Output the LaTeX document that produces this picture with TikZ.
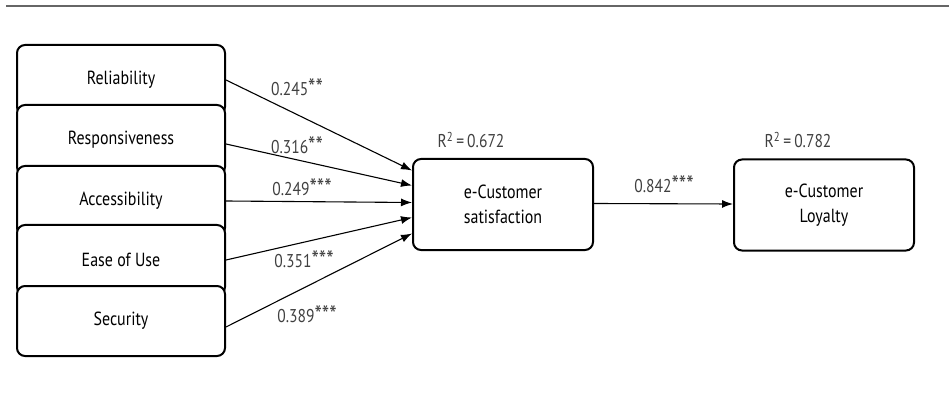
\documentclass[tikz,border=0pt]{standalone}
\usepackage{fontspec}
\setmainfont[FakeStretch=0.84]{PT Sans}
\usetikzlibrary{arrows.meta}
\newcommand{\sigstar}{\raisebox{-1.5pt}{\fontsize{25}{25}\selectfont*}}

\begin{document}
\begin{tikzpicture}[x=1pt,y=-1pt,
  box/.style={draw,rounded corners=8pt,line width=2pt,fill=white,
    minimum width=208pt,minimum height=70pt,inner sep=2pt,
    font=\fontsize{19}{25}\selectfont},
  bigbox/.style={box,minimum width=180pt,minimum height=91pt,align=center},
  coef/.style={text=black!75,inner sep=1pt,font=\fontsize{18.5}{20}\selectfont},
  path/.style={line width=1.1pt,-{Latex[length=11pt,width=8pt]}}]
\useasboundingbox (0,0) rectangle (949,395);
\draw[black!60,line width=2pt] (6,6.5)--(949,6.5);

\node[box] (rel) at (121,80) {Reliability};
\node[box] (res) at (121,140) {Responsiveness};
\node[box] (acc) at (121,201) {Accessibility};
\node[box] (eou) at (121,260) {Ease of Use};
\node[box] (sec) at (121,321) {Security};

\node[bigbox] (sat) at (503,204.5) {e-Customer\\satisfaction};
\node[bigbox] (loy) at (824,205) {e-Customer\\Loyalty};

\node[coef] (r2sat) at (471,140) {R\textsuperscript{2}\,=\,0.672};
\node[coef] (r2loy) at (798,140) {R\textsuperscript{2}\,=\,0.782};

\draw[path] (rel.east) -- ([yshift=34pt]sat.west);
\draw[path] ([yshift=-4pt]res.east) -- ([yshift=19pt]sat.west);
\draw[path] (acc.east) -- ([yshift=2pt]sat.west);
\draw[path] (eou.east) -- ([yshift=-13pt]sat.west);
\draw[path] ([yshift=-6pt]sec.east) -- ([yshift=-29pt]sat.west);
\draw[path] ([yshift=1pt]sat.east) -- ([yshift=1pt]loy.west);

\node[coef] (c1) at (297,88) {0.245\sigstar\sigstar};
\node[coef] (c2) at (297,146) {0.316\sigstar\sigstar};
\node[coef] (c3) at (302,188) {0.249\sigstar\sigstar\sigstar};
\node[coef] (c4) at (304,260) {0.351\sigstar\sigstar\sigstar};
\node[coef] (c5) at (307,315) {0.389\sigstar\sigstar\sigstar};
\node[coef] (c6) at (664,185) {0.842\sigstar\sigstar\sigstar};
\end{tikzpicture}
\end{document}
